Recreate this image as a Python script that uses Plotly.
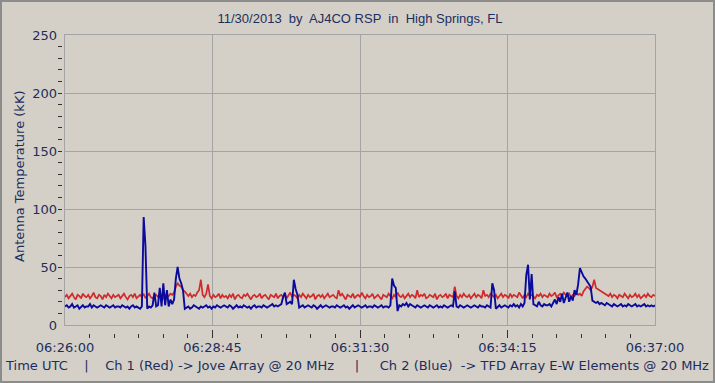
import plotly.graph_objects as go

# time offset in seconds from 06:26:00, sampled every 2 s
step_s = 2

ch1_red = [
    24,26,23,25,27,24,22,26,25,23,27,25,24,26,23,25,28,24,23,26,25,22,26,24,27,25,23,26,24,25,
    26,23,25,27,24,22,25,26,24,27,23,25,26,24,27,23,25,27,24,23,25,26,24,28,25,23,26,24,25,27,
    26,28,33,36,34,33,30,29,27,25,27,24,26,25,28,30,39,26,24,27,35,25,23,26,24,25,27,23,26,24,
    25,23,26,24,27,22,25,26,24,23,26,25,27,24,22,25,26,24,25,27,23,25,26,24,22,26,25,24,27,23,
    25,26,24,27,23,25,28,24,26,25,23,26,24,27,25,23,26,24,25,27,22,25,26,24,26,23,25,27,24,25,
    26,24,23,30,25,27,24,22,26,25,24,27,23,25,26,24,28,25,23,26,24,25,27,23,25,26,24,22,26,25,
    24,27,25,23,26,24,28,25,24,26,23,25,27,24,26,25,23,30,24,26,25,27,23,24,26,25,24,27,22,25,
    26,24,25,27,23,26,25,24,33,25,23,26,24,27,25,24,26,23,25,27,24,26,25,23,30,25,26,24,27,25,
    24,26,23,25,27,24,26,25,23,27,24,26,25,24,28,25,23,26,24,27,25,26,24,23,26,25,27,24,26,25,
    24,27,25,26,28,24,26,27,25,28,26,25,27,24,26,25,28,26,27,25,29,31,33,32,30,33,39,32,31,30,
    29,28,27,26,25,27,24,26,25,23,26,25,24,27,25,23,26,24,25,27,24,26,23,25,26,24,27,25,24,26,
    25,
]

ch2_blue = [
    16,17,15,16,18,15,16,17,14,16,17,15,16,16,18,15,17,16,15,16,17,16,15,17,16,15,16,17,15,16,
    16,15,17,16,15,16,14,16,17,15,16,15,14,16,93,68,14,16,15,17,28,16,17,32,16,36,17,30,16,22,
    18,22,40,50,40,36,30,14,15,16,14,15,17,16,15,14,16,15,16,17,15,16,14,16,15,17,16,15,16,17,
    16,15,17,16,14,16,17,15,16,15,17,16,15,16,14,16,17,15,16,16,15,17,16,15,16,17,18,16,17,16,
    17,18,24,28,18,19,20,18,39,31,26,15,16,17,15,16,17,16,15,17,16,14,16,17,15,16,17,16,15,16,
    16,15,17,16,15,16,17,15,16,14,16,17,15,16,17,16,15,16,17,15,16,16,15,17,16,15,16,17,15,16,
    16,15,17,40,34,32,12,17,16,18,17,19,16,18,17,16,15,17,16,15,16,17,16,15,17,16,15,16,17,15,
    16,15,17,16,15,16,17,16,29,16,15,17,16,15,16,17,16,15,16,17,16,15,17,16,16,15,17,16,15,36,
    30,14,16,17,15,16,17,16,15,17,16,18,16,17,15,18,16,19,43,52,22,44,18,17,16,20,17,16,18,17,
    17,18,16,19,22,18,24,20,27,19,23,28,20,25,21,30,26,35,49,45,42,40,38,36,33,21,20,19,20,18,
    19,18,17,19,18,17,16,18,17,16,17,18,16,17,16,18,17,16,17,18,16,17,16,17,18,16,17,16,17,16,
    17,
]

tick_seconds = [0, 165, 330, 495, 660]
tick_labels = ["06:26:00", "06:28:45", "06:31:30", "06:34:15", "06:37:00"]
y_ticks = [0, 50, 100, 150, 200, 250]

title_text = "11/30/2013  by  AJ4CO RSP  in  High Springs, FL"
NB = "\u00a0"
footer_text = ("Time UTC" + NB * 4 + "|" + NB * 4 + "Ch 1 (Red) -> Jove Array @ 20 MHz"
               + NB * 5 + "|" + NB * 5 + "Ch 2 (Blue)" + NB * 2
               + "-> TFD Array E-W Elements @ 20 MHz")
y_title = "Antenna Temperature (kK)"

t = [i * step_s for i in range(len(ch1_red))]

BG = "#D4D0C8"
GRID = "#A4A4A4"
TXT = "#1C2E5E"
TICKC = "#303030"
FONT = "DejaVu Sans"

# pixel layout: plot frame x 65..655, y 35..325; detached tick rows at x=57 and y=338
W, H = 715, 383
ML, MR, MT, MB = 57, 60, 35, 45
PW, PH = W - ML - MR, H - MT - MB

fig = go.Figure()
fig.add_trace(go.Scatter(x=t, y=ch1_red, mode="lines", xaxis="x", yaxis="y",
                         line=dict(color="#D02A2A", width=1.7), hoverinfo="skip"))
fig.add_trace(go.Scatter(x=t, y=ch2_blue, mode="lines", xaxis="x", yaxis="y",
                         line=dict(color="#0A0A9C", width=1.9), hoverinfo="skip"))
# invisible carrier trace for the detached tick axes
fig.add_trace(go.Scatter(x=t, y=ch1_red, mode="lines", xaxis="x2", yaxis="y2",
                         opacity=0, line=dict(width=0), hoverinfo="skip"))

fig.update_layout(
    width=W, height=H,
    margin=dict(l=ML, r=MR, t=MT, b=MB),
    paper_bgcolor=BG, plot_bgcolor=BG,
    showlegend=False,
    font=dict(family=FONT, size=13, color=TXT),
    title=dict(text=title_text, x=360 / W, xanchor="center", y=1 - 18 / H, yanchor="middle",
               font=dict(family="Liberation Sans", size=13, color=TXT)),
    xaxis=dict(
        domain=[8 / PW, 1], anchor="y", range=[0, 660],
        tickvals=tick_seconds, showticklabels=False, ticks="",
        showgrid=True, gridcolor=GRID, gridwidth=1,
        showline=True, linecolor=GRID, linewidth=1, mirror=True,
        zeroline=False, automargin=False,
    ),
    yaxis=dict(
        domain=[13 / PH, 1], anchor="x", range=[0, 250],
        tickvals=y_ticks, showticklabels=False, ticks="",
        showgrid=True, gridcolor=GRID, gridwidth=1,
        showline=True, linecolor=GRID, linewidth=1, mirror=True,
        zeroline=False, automargin=False,
    ),
    xaxis2=dict(
        domain=[8 / PW, 1], anchor="free", position=0, overlaying="x", range=[0, 660],
        tickvals=tick_seconds, ticktext=tick_labels,
        ticks="inside", ticklen=8, tickcolor=TICKC, tickwidth=1,
        minor=dict(dtick=27.5, tick0=0, ticks="inside", ticklen=4, tickcolor=TICKC,
                   showgrid=False),
        showgrid=False, showline=False, zeroline=False, automargin=False,
        tickfont=dict(family=FONT, size=13, color=TXT),
    ),
    yaxis2=dict(
        domain=[13 / PH, 1], anchor="free", position=0, overlaying="y", range=[0, 250],
        tickvals=y_ticks,
        ticks="inside", ticklen=2, tickcolor=TICKC, tickwidth=1,
        minor=dict(dtick=10, ticks="inside", ticklen=4, tickcolor=TICKC, showgrid=False),
        showgrid=False, showline=False, zeroline=False, automargin=False,
        tickfont=dict(family=FONT, size=13, color=TXT),
    ),
)

fig.add_annotation(text=y_title, xref="paper", yref="paper",
                   x=(19 - ML) / PW, y=(H - MB - 177) / PH, textangle=-90,
                   xanchor="center", yanchor="middle", showarrow=False,
                   font=dict(family=FONT, size=13, color=TXT))

fig.add_annotation(text=footer_text, xref="paper", yref="paper",
                   x=(3 - ML) / PW, y=(H - MB - 365) / PH, xanchor="left", yanchor="middle",
                   showarrow=False,
                   font=dict(family=FONT, size=13, color=TXT))

fig.add_shape(type="rect", xref="paper", yref="paper",
              x0=-(ML - 1) / PW, x1=1 + (MR - 1) / PW,
              y0=-(MB - 1) / PH, y1=1 + (MT - 1) / PH,
              line=dict(color="#8C8C8C", width=2), fillcolor="rgba(0,0,0,0)",
              layer="below")

fig.write_html("out.html",
               config={"displayModeBar": False},
               post_script="document.body.style.margin='0px';document.body.style.overflow='hidden';")
